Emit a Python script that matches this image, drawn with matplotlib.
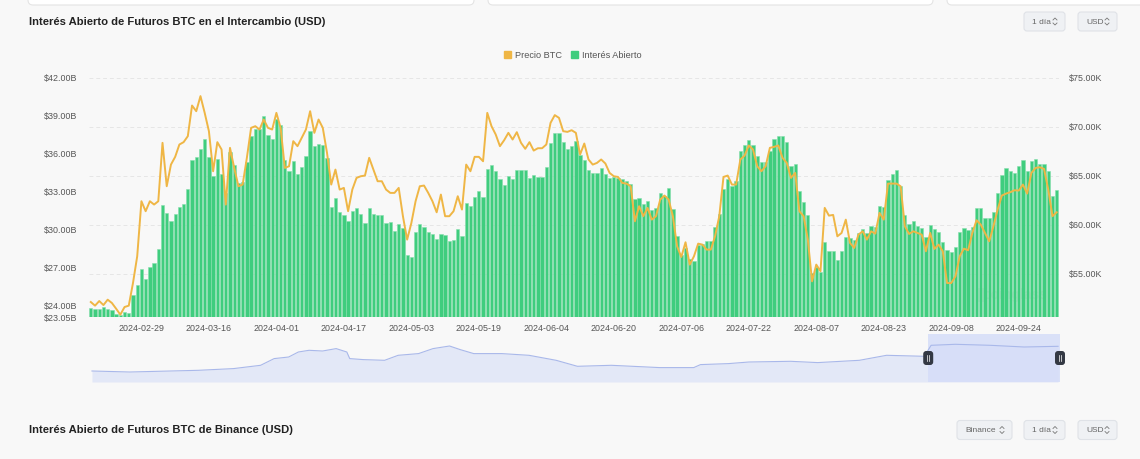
import numpy as np
import pandas as pd
import matplotlib

matplotlib.use("Agg")
import matplotlib.pyplot as plt
from matplotlib.patches import FancyBboxPatch, Patch

plt.rcParams["font.family"] = ["Liberation Sans Narrow", "Liberation Sans", "DejaVu Sans"]

# open interest (billions USD), daily from 2024-02-17
oi = [23.79, 23.73, 23.68, 23.89, 23.73, 23.66, 23.29, 23.23, 23.47, 23.39,
      24.79, 25.63, 26.84, 26.05, 27.02, 27.31, 28.47, 31.97, 31.29, 30.65,
      31.21, 31.76, 32.05, 33.23, 35.50, 35.73, 36.39, 37.18, 35.76, 34.21,
      35.60, 34.37, 32.87, 36.13, 35.10, 33.68, 33.73, 35.34, 37.37, 37.97,
      37.95, 38.97, 37.44, 37.13, 38.73, 38.23, 35.52, 34.60, 35.42, 34.42,
      34.97, 35.79, 37.76, 36.63, 36.73, 36.66, 35.68, 31.79, 32.50, 31.39,
      31.13, 30.66, 31.47, 31.71, 31.21, 30.52, 31.71, 31.26, 31.13, 31.18,
      30.52, 30.58, 29.84, 30.47, 30.10, 27.97, 27.79, 29.81, 30.42, 30.23,
      29.81, 29.63, 29.23, 29.68, 29.55, 29.08, 29.16, 30.05, 29.47, 32.13,
      31.87, 32.58, 33.08, 32.58, 34.79, 35.08, 34.63, 34.02, 33.55, 34.21,
      34.00, 34.73, 34.73, 34.73, 34.05, 34.34, 34.16, 34.16, 34.97, 36.87,
      37.60, 37.66, 36.89, 36.37, 36.63, 36.97, 35.89, 35.52, 34.73, 34.44,
      34.44, 34.89, 34.42, 34.08, 34.16, 34.10, 34.02, 33.81, 33.58, 32.44,
      32.52, 31.99, 32.26, 31.52, 31.66, 32.89, 32.66, 33.31, 31.58, 29.50,
      27.97, 28.50, 27.68, 27.52, 28.81, 28.87, 29.10, 29.10, 30.21, 31.21,
      33.21, 34.02, 33.44, 33.84, 36.18, 36.66, 37.05, 36.68, 35.84, 35.31,
      35.31, 36.21, 37.16, 37.42, 37.39, 36.89, 35.05, 35.16, 33.05, 32.18,
      31.16, 26.58, 27.00, 26.66, 29.00, 28.31, 28.31, 27.58, 28.31, 29.37,
      29.29, 29.16, 29.73, 30.05, 29.73, 30.26, 30.16, 31.87, 31.79, 33.94,
      34.42, 34.68, 33.47, 31.16, 30.47, 30.68, 30.26, 30.10, 29.42, 30.34,
      30.02, 29.81, 29.00, 28.34, 28.23, 28.63, 29.76, 30.10, 29.94, 30.16,
      31.66, 31.68, 30.89, 30.87, 31.42, 32.89, 34.34, 34.87, 34.66, 34.50,
      35.00, 35.52, 34.63, 35.44, 35.58, 35.21, 35.18, 34.63, 32.68, 33.10]

# BTC price (thousands USD)
price = [52.11, 51.74, 52.21, 51.80, 52.35, 52.01, 51.43, 50.82, 51.60, 51.74,
         54.05, 56.78, 62.40, 61.38, 62.40, 62.06, 62.40, 68.36, 63.93, 66.14,
         66.93, 68.19, 68.43, 69.04, 72.17, 71.59, 73.13, 71.42, 69.55, 65.46,
         68.43, 67.68, 62.06, 67.85, 65.80, 63.93, 64.10, 66.83, 69.89, 70.06,
         69.72, 70.74, 69.89, 69.72, 71.42, 69.89, 65.80, 65.97, 68.53, 68.02,
         68.87, 69.72, 71.59, 69.38, 70.74, 69.89, 67.34, 64.10, 65.63, 63.59,
         63.76, 61.38, 63.59, 64.78, 64.95, 65.02, 66.83, 65.63, 64.44, 64.44,
         63.59, 63.25, 63.25, 63.76, 60.87, 58.48, 60.18, 62.40, 63.93, 64.00,
         63.25, 62.40, 61.27, 63.08, 60.87, 60.87, 61.38, 62.91, 61.55, 66.14,
         65.46, 66.93, 66.93, 66.48, 71.42, 70.06, 69.21, 68.02, 68.63, 69.38,
         68.70, 69.45, 68.36, 67.75, 68.43, 67.57, 67.81, 67.81, 68.19, 70.40,
         71.19, 70.91, 69.55, 69.48, 69.65, 69.38, 67.17, 68.29, 66.66, 66.14,
         66.31, 66.66, 66.25, 65.29, 64.95, 64.88, 64.27, 64.20, 63.93, 60.35,
         61.89, 60.87, 61.72, 60.52, 60.87, 62.57, 62.98, 62.57, 60.87, 57.80,
         56.71, 58.21, 55.93, 56.78, 58.07, 57.97, 57.46, 57.46, 58.82, 60.87,
         64.88, 65.02, 64.10, 64.10, 66.66, 67.06, 68.09, 67.68, 65.97, 65.46,
         65.97, 67.85, 67.95, 68.09, 66.83, 66.31, 64.78, 65.29, 61.38, 60.87,
         58.48, 54.22, 55.93, 55.25, 61.72, 60.93, 61.00, 58.82, 59.16, 60.52,
         58.14, 57.63, 58.99, 59.33, 58.48, 59.33, 59.09, 61.21, 60.52, 64.20,
         64.20, 64.20, 63.93, 59.84, 59.06, 59.33, 59.16, 58.99, 57.29, 59.16,
         57.53, 57.97, 57.29, 54.05, 54.05, 54.73, 56.78, 57.56, 57.39, 59.16,
         60.46, 60.01, 59.16, 58.31, 59.84, 61.55, 62.98, 63.18, 63.32, 63.52,
         63.49, 64.10, 63.18, 65.29, 65.80, 65.87, 65.70, 63.59, 60.87, 61.27]

start_date = "2024-02-17"
left_ticks = [23.05, 24, 27, 30, 33, 36, 39, 42]
right_ticks = [55, 60, 65, 70, 75]

# overview (data zoom) curve: position along full history, relative height
mini_pos = [0.001, 0.040, 0.111, 0.147, 0.175, 0.189, 0.204, 0.214, 0.225,
            0.239, 0.253, 0.264, 0.267, 0.281, 0.303, 0.317, 0.338, 0.353,
            0.370, 0.381, 0.395, 0.424, 0.452, 0.480, 0.502, 0.537, 0.587,
            0.622, 0.629, 0.658, 0.679, 0.722, 0.750, 0.793, 0.821, 0.860,
            0.867, 0.892, 0.928, 0.963, 0.998]
mini_val = [11.0, 10.0, 11.7, 13.4, 16.7, 23.4, 25.0, 30.0, 31.7, 31.0, 33.4,
            30.0, 23.4, 22.4, 21.7, 26.7, 28.4, 33.4, 36.0, 32.4, 28.4, 28.4,
            26.7, 21.7, 15.7, 16.7, 14.4, 14.4, 17.4, 18.4, 20.0, 20.7, 19.4,
            21.7, 26.7, 25.7, 36.7, 37.7, 36.7, 35.0, 35.7]
window = (0.864, 1.0)

W, H = 1140, 459
BG = "#f8f8f8"
GREEN = "#3fcd7e"
ORANGE = "#efb645"
TXT = "#555555"
FS = 6.4

L_LIM = (23.05, 42.0)
R_LIM = (50.55, 75.0)


def fx(x):
    return x / W


def fy(y):
    return 1 - y / H


fig = plt.figure(figsize=(W / 100, H / 100), dpi=100, facecolor=BG)

# ===============
# page decorations (pixel coordinates)
# ===============
deco = fig.add_axes([0, 0, 1, 1])
deco.set_xlim(0, W)
deco.set_ylim(H, 0)
deco.axis("off")

for x0, x1 in [(28, 474), (488, 933), (947, 1160)]:
    deco.add_patch(FancyBboxPatch((x0, -12), x1 - x0, 17,
                                  boxstyle="round,pad=0,rounding_size=5",
                                  facecolor="white", edgecolor="#e4e4e4", lw=0.8))


def button(x0, x1, yc, label):
    deco.add_patch(FancyBboxPatch((x0, yc - 9.5), x1 - x0, 19,
                                  boxstyle="round,pad=0,rounding_size=3",
                                  facecolor="#eff1f4", edgecolor="#dfe2e7", lw=0.8))
    deco.text(x0 + 8, yc + 0.5, label, fontsize=6.0, color="#666666",
              va="center", ha="left")
    cx = x1 - 10
    deco.plot([cx - 2, cx, cx + 2], [yc - 1.5, yc - 3.5, yc - 1.5], color="#777777", lw=0.6)
    deco.plot([cx - 2, cx, cx + 2], [yc + 1.5, yc + 3.5, yc + 1.5], color="#777777", lw=0.6)


fig.text(fx(29), fy(22), "Interés Abierto de Futuros BTC en el Intercambio (USD)",
         fontsize=8.1, weight="bold", color="#222222", va="center")
button(1024, 1065, 21.5, "1 día")
button(1078, 1117, 21.5, "USD")

fig.text(fx(29), fy(430), "Interés Abierto de Futuros BTC de Binance (USD)",
         fontsize=8.1, weight="bold", color="#222222", va="center")
button(957, 1012, 430, "Binance")
button(1024, 1065, 430, "1 día")
button(1078, 1117, 430, "USD")

# watermark
deco.text(1015, 295, "coinglass", fontsize=10, weight="bold", color="#e2e2e2",
          ha="center", va="center")
deco.add_patch(FancyBboxPatch((976, 288), 11, 14, boxstyle="round,pad=0,rounding_size=3",
                              facecolor="#e4e4e4", edgecolor="none"))

# ===============
# main chart
# ===============
dates = pd.date_range(start_date, periods=len(oi), freq="D")
x = np.arange(len(oi))

ax = fig.add_axes([fx(88.7), fy(317.3), fx(1058.8) - fx(88.7), (317.3 - 77.8) / H])
ax.set_facecolor("none")

# dashed grid follows the price axis, drawn behind the bars
for v in right_ticks:
    lv = L_LIM[0] + (v - R_LIM[0]) / (R_LIM[1] - R_LIM[0]) * (L_LIM[1] - L_LIM[0])
    ax.axhline(lv, color="#e6e6e6", linestyle=(0, (4, 3)), lw=0.7, zorder=0)

ax.bar(x, oi, width=0.78, color=GREEN, edgecolor="#86deac", linewidth=0.4, zorder=2)
ax.set_xlim(-0.5, len(oi) - 0.5)
ax.set_ylim(*L_LIM)
ax.set_yticks(left_ticks)
ax.set_yticklabels([f"${v:.2f}B" for v in left_ticks])
tick_idx = x[12::16]
ax.set_xticks(tick_idx)
ax.set_xticklabels([dates[i].strftime("%Y-%m-%d") for i in tick_idx])
ax.tick_params(axis="both", length=0, labelsize=FS, colors=TXT)
ax.tick_params(axis="y", pad=8)
ax.tick_params(axis="x", pad=5)
for s in ax.spines.values():
    s.set_visible(False)

ax2 = ax.twinx()
ax2.plot(x, price, color=ORANGE, lw=1.4, solid_joinstyle="round", zorder=3)
ax2.set_ylim(*R_LIM)
ax2.set_yticks(right_ticks)
ax2.set_yticklabels([f"${v:.2f}K" for v in right_ticks])
ax2.tick_params(axis="y", length=0, labelsize=FS, colors=TXT, pad=7)
for s in ax2.spines.values():
    s.set_visible(False)

fig.legend(handles=[Patch(color=ORANGE, label="Precio BTC"),
                    Patch(color=GREEN, label="Interés Abierto")],
           loc="center", bbox_to_anchor=(fx(573), fy(55)), ncol=2, frameon=False,
           fontsize=6.6, labelcolor=TXT, handlelength=0.75, handleheight=0.75,
           handletextpad=0.45, columnspacing=1.0)

# ===============
# overview slider
# ===============
mini = fig.add_axes([fx(91), fy(382), fx(1060) - fx(91), (382 - 334) / H])
mini.set_facecolor("none")
mini.fill_between(mini_pos, mini_val, 0, color="#e3e8f7", lw=0)
mini.plot(mini_pos, mini_val, color="#a9b8ea", lw=0.8)
mini.axvspan(window[0], window[1], color="#d5ddf9", alpha=0.85, lw=0)
mini.set_xlim(0, 1)
mini.set_ylim(0, 48)
mini.axis("off")

# slider handles on top of everything
top = fig.add_axes([0, 0, 1, 1])
top.set_xlim(0, W)
top.set_ylim(H, 0)
top.axis("off")
for wx in window:
    px = 91 + wx * (1060 - 91)
    top.add_patch(FancyBboxPatch((px - 5, 351), 10, 14, boxstyle="round,pad=0,rounding_size=3",
                                 facecolor="#343944", edgecolor="none"))
    top.plot([px - 1.2, px - 1.2], [355, 361], color="white", lw=0.5)
    top.plot([px + 1.2, px + 1.2], [355, 361], color="white", lw=0.5)

fig.savefig("out.png", dpi=100, facecolor=BG)
